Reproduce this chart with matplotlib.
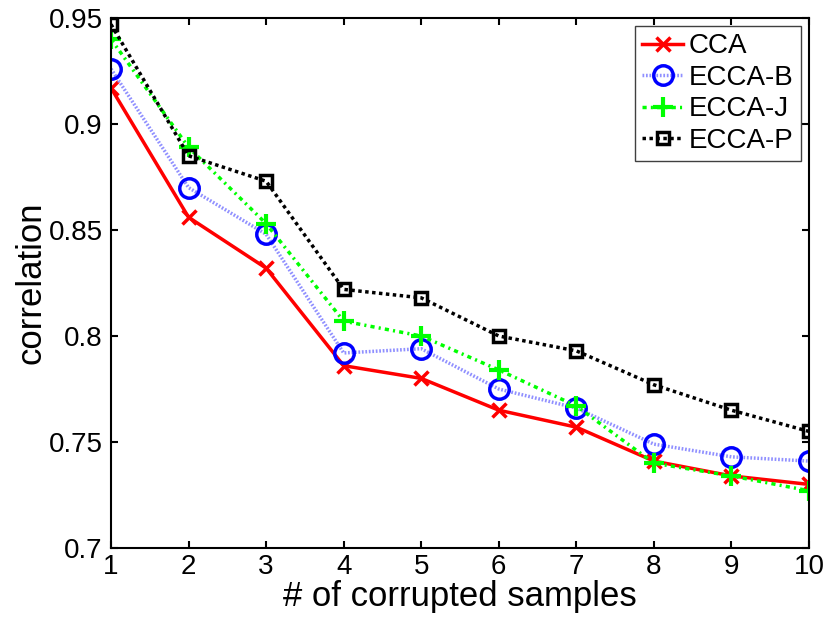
import matplotlib
matplotlib.use("Agg")
import matplotlib.pyplot as plt

plt.rcParams["font.family"] = ["Liberation Sans", "DejaVu Sans"]

samples = [1, 2, 3, 4, 5, 6, 7, 8, 9, 10]
cca = [0.917, 0.856, 0.832, 0.786, 0.780, 0.765, 0.757, 0.741, 0.734, 0.730]
ecca_b = [0.926, 0.870, 0.848, 0.792, 0.794, 0.775, 0.766, 0.749, 0.743, 0.741]
ecca_j = [0.940, 0.889, 0.853, 0.807, 0.800, 0.784, 0.767, 0.740, 0.734, 0.727]
ecca_p = [0.947, 0.885, 0.873, 0.822, 0.818, 0.800, 0.793, 0.777, 0.765, 0.755]

fig = plt.figure(figsize=(8.26, 6.19), dpi=100)
ax = fig.add_axes([0.1344, 0.1147, 0.845, 0.8562])

ax.plot(samples, cca, color="red", lw=2.5, marker="x", ms=10, mew=2.5, label="CCA")
ax.plot(samples, ecca_b, color="#9090ff", lw=2.5, ls=(0, (0.5, 0.5)), marker="o", ms=14,
        mfc="none", mec="blue", mew=2.5, label="ECCA-B")
ax.plot(samples, ecca_j, color="#00ff00", lw=2.5, ls=(0, (1.2, 1.2, 0.6, 1.2)), marker="+",
        ms=15, mew=3, label="ECCA-J")
ax.plot(samples, ecca_p, color="black", lw=2.5, ls=(0, (1, 1)), marker="s", ms=9,
        mfc="none", mec="black", mew=2.5, label="ECCA-P")

ax.set_xlim(1, 10)
ax.set_ylim(0.7, 0.95)
ax.set_xticks(samples)
ax.set_yticks([0.7, 0.75, 0.8, 0.85, 0.9, 0.95])
ax.set_yticklabels(["0.7", "0.75", "0.8", "0.85", "0.9", "0.95"])
ax.tick_params(direction="in", top=True, right=True, length=5, width=1.5, labelsize=20)
ax.tick_params(axis="x", pad=4)
ax.tick_params(axis="y", pad=6)
for s in ax.spines.values():
    s.set_linewidth(1.5)

ax.set_xlabel("# of corrupted samples", fontsize=25, labelpad=0)
ax.set_ylabel("correlation", fontsize=25, labelpad=1)

leg = ax.legend(loc="upper right", fontsize=20, fancybox=False, framealpha=1,
                edgecolor="#404040", handlelength=1.5, handletextpad=0.2,
                borderpad=0.25, labelspacing=0.2, borderaxespad=0.3)
leg.get_frame().set_linewidth(1.0)

fig.savefig("out.png", dpi=100)
